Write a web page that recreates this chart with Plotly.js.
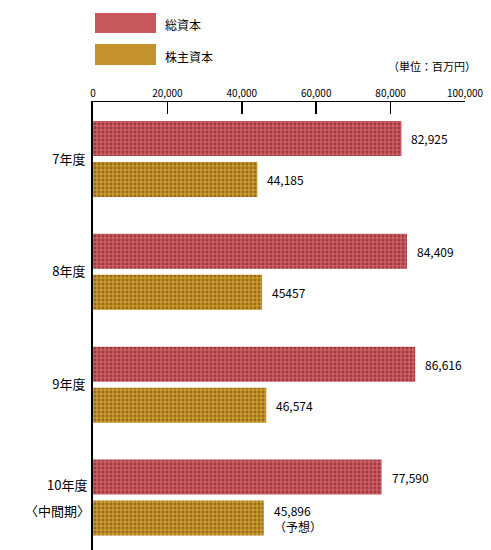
<!DOCTYPE html>
<html><head><meta charset="utf-8">
<script src="https://cdn.plot.ly/plotly-3.0.1.min.js"></script>
<style>html,body{margin:0;padding:0;background:#fff}#c{width:491px;height:550px}</style>
</head><body><div id="c"></div>
<script>
const categories = ["7年度", "8年度", "9年度", "10年度"];
const categoryNotes = ["", "", "", "〈中間期〉"];
const totalCapital = [82925, 84409, 86616, 77590];
const equity = [44185, 45457, 46574, 45896];
const totalLabels = ["82,925", "84,409", "86,616", "77,590"];
const equityLabels = ["44,185", "45457", "46,574", "45,896<br>（予想）"];
const seriesNames = ["総資本", "株主資本"];
const tickVals = [0, 20000, 40000, 60000, 80000, 100000];
const tickText = ["0", "20,000", "40,000", "60,000", "80,000", "100,000"];

const FONT = "Noto Sans CJK JP, sans-serif";
const redBase = "#cf5e66", redFg = "#9c3a3e";
const goldBase = "#c99a2c", goldFg = "#9a6a1c";

const traces = [
  {type: "bar", orientation: "h", name: seriesNames[0], y: categories, x: totalCapital,
   marker: {color: redBase, line: {width: 0}, pattern: {shape: ".", fgcolor: redFg, bgcolor: redBase, size: 4, solidity: 0.4}}},
  {type: "bar", orientation: "h", name: seriesNames[1], y: categories, x: equity,
   marker: {color: goldBase, line: {width: 0}, pattern: {shape: ".", fgcolor: goldFg, bgcolor: goldBase, size: 4, solidity: 0.4}}}
];

const annotations = [];
categories.forEach((c, i) => {
  annotations.push({x: totalCapital[i], y: i, yshift: 20.5, text: totalLabels[i], showarrow: false,
    xanchor: "left", xshift: 8, font: {family: FONT, size: 12, color: "#000"}});
  annotations.push({x: equity[i], y: i, yshift: -20.5, text: equityLabels[i], showarrow: false,
    xanchor: "left", xshift: 8, yanchor: "middle", align: "left",
    font: {family: FONT, size: 12, color: "#000"}});
  if (categoryNotes[i]) {
    annotations.push({xref: "paper", x: 0, y: i, yshift: 13, xanchor: "right", xshift: -4,
      text: c, showarrow: false, font: {family: FONT, size: 13, color: "#000"}});
    annotations.push({xref: "paper", x: 0, y: i, yshift: -13, xanchor: "right", xshift: -1,
      text: categoryNotes[i], showarrow: false, font: {family: FONT, size: 13, color: "#000"}});
  }
});
annotations.push({xref: "paper", yref: "paper", x: 1.035, y: 1.0, yanchor: "bottom", yshift: 26,
  xanchor: "right", text: "（単位：百万円）", showarrow: false, font: {family: FONT, size: 11, color: "#000"}});
// legend labels
annotations.push({xref: "paper", yref: "paper", x: (163-93)/372, y: 1, yshift: 102-24, yanchor: "middle",
  xanchor: "left", text: seriesNames[0], showarrow: false, font: {family: FONT, size: 12, color: "#000"}});
annotations.push({xref: "paper", yref: "paper", x: (163-93)/372, y: 1, yshift: 102-56, yanchor: "middle",
  xanchor: "left", text: seriesNames[1], showarrow: false, font: {family: FONT, size: 12, color: "#000"}});

const px = v => (v - 93) / 372;
const py = v => (550 - v) / 448;
const shapes = [
  {type: "rect", xref: "paper", yref: "paper", x0: px(95), x1: px(156), y0: py(33), y1: py(13),
   fillcolor: "#c9585e", line: {width: 0}},
  {type: "rect", xref: "paper", yref: "paper", x0: px(95), x1: px(156), y0: py(65), y1: py(44),
   fillcolor: "#c4922c", line: {width: 0}}
];

const layout = {
  width: 491, height: 550,
  margin: {l: 93, r: 26, t: 102, b: 0},
  paper_bgcolor: "#fff", plot_bgcolor: "#fff",
  showlegend: false,
  barmode: "group", bargap: 0.274, bargroupgap: 0.146,
  font: {family: FONT, color: "#000"},
  xaxis: {side: "top", range: [0, 100000], tickvals: tickVals, ticktext: tickText,
    ticks: "inside", ticklen: 12, tickwidth: 1.5, tickcolor: "#000",
    showline: true, linecolor: "#000", linewidth: 1.5, showgrid: false, zeroline: false,
    tickfont: {family: FONT, size: 10, color: "#000"}, fixedrange: true},
  yaxis: {type: "category", range: [3.465, -0.505], showline: true, linecolor: "#000", linewidth: 2,
    tickvals: categories, ticktext: categories.map((c, i) => categoryNotes[i] ? "" : c),
    ticks: "", showgrid: false, zeroline: false, ticklabelstandoff: 3,
    tickfont: {family: FONT, size: 13, color: "#000"}, fixedrange: true},
  annotations: annotations,
  shapes: shapes
};
Plotly.newPlot("c", traces, layout, {displayModeBar: false, staticPlot: true});
</script></body></html>
